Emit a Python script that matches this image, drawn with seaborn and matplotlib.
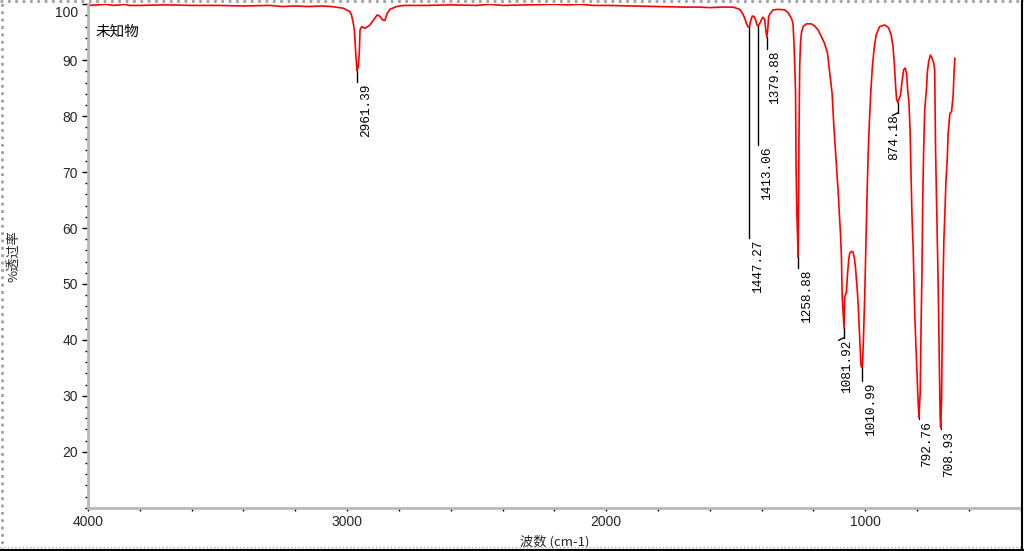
import matplotlib
matplotlib.use("Agg")
import matplotlib.pyplot as plt
import matplotlib.transforms as mtransforms
from matplotlib.lines import Line2D
from matplotlib.ticker import MultipleLocator
import pandas as pd
import seaborn as sns

# IR spectrum: wavenumber (cm-1) and %T
wavenumber = [
    4000, 3960, 3930, 3900, 3860, 3840, 3800, 3700, 3600, 3500, 3400, 3300,
    3250, 3200, 3150, 3100, 3060, 3030, 3015, 2989, 2983, 2976, 2972, 2969,
    2965, 2961.39, 2957, 2953, 2950, 2944, 2931, 2912, 2893, 2884, 2874, 2863,
    2854, 2845, 2835, 2809, 2780, 2700, 2600, 2500, 2450, 2400, 2300, 2200,
    2150, 2100, 2050, 2000, 1900, 1800, 1700, 1640, 1600, 1560, 1510, 1485,
    1474, 1465, 1459, 1453, 1447.27, 1443, 1436, 1429, 1423, 1418, 1413.06,
    1407, 1401, 1395, 1388, 1384, 1379.88, 1376, 1373, 1366, 1356, 1337,
    1311, 1298, 1285, 1279, 1275, 1272, 1269, 1267, 1264, 1258.88, 1255.6,
    1253, 1250, 1246.6, 1240, 1227, 1208, 1195, 1182, 1169, 1157, 1146,
    1137, 1128, 1121, 1111, 1105, 1101, 1098, 1095, 1092, 1089, 1081.92,
    1079, 1073, 1069, 1064, 1060, 1054, 1048, 1043, 1038, 1034, 1030, 1027,
    1023, 1020, 1016, 1010.99, 1007, 1002, 997, 993, 989, 984, 979, 973,
    966, 958, 945, 925, 910, 900, 893, 888, 883, 879, 874.18, 870, 864, 858,
    852, 846, 840, 836, 832, 827, 823, 819, 815, 812.6, 809, 803.7, 799.7,
    796, 792.76, 788, 784, 781, 778, 774.5, 770.5, 764, 760, 755, 748.5,
    742, 736, 732, 728.6, 722.5, 718.4, 715.8, 713, 711, 708.93, 705.4,
    701.5, 696.5, 692.6, 688.8, 683.7, 679.9, 673.4, 666.8, 660.7, 656.7, 654,
]
transmittance = [
    99.8, 99.9, 100.0, 99.8, 100.0, 99.8, 99.8, 99.9, 99.8, 99.8, 99.7, 99.8,
    99.6, 99.7, 99.6, 99.7, 99.6, 99.4, 99.3, 98.7, 98.1, 96.6, 95.4, 93.0,
    90.1, 88.1, 88.9, 91.2, 95.4, 96.0, 95.7, 96.3, 97.5, 98.1, 97.9, 97.2,
    97.1, 98.4, 99.1, 99.6, 99.8, 99.8, 99.9, 99.8, 100.0, 99.8, 99.9, 100.0,
    99.9, 100.0, 99.8, 99.8, 99.7, 99.6, 99.5, 99.5, 99.4, 99.5, 99.5, 99.1,
    98.4, 97.5, 96.6, 96.0, 95.9, 96.9, 97.9, 97.8, 97.2, 96.3, 96.1,
    96.6, 97.2, 97.7, 97.3, 95.4, 94.1, 95.7, 97.8, 98.4, 99.0, 99.1,
    99.0, 98.5, 97.5, 96.6, 93.0, 88.9, 84.1, 71.0, 62.7, 54.8, 77.0,
    88.9, 93.0, 94.8, 96.0, 96.5, 96.5, 96.1, 95.4, 94.2, 93.0, 91.3,
    87.7, 84.1, 78.1, 71.0, 66.8, 63.3, 60.9, 58.5, 54.9, 47.8, 42.1,
    47.8, 48.4, 51.4, 54.3, 55.5, 55.8, 55.8, 54.9, 53.1, 50.8, 48.4, 46.0,
    41.8, 38.9, 35.3, 35.0, 40.1, 48.0, 58.0, 66.0, 73.0, 79.0, 84.0, 88.5,
    92.0, 94.5, 96.0, 96.3, 95.8, 94.5, 92.5, 89.5, 85.5, 83.0, 82.4, 83.0, 83.8, 86.2,
    88.3, 88.6, 87.5, 84.5, 82.9, 77.6, 68.9, 61.2, 56.4, 51.7, 44.5, 38.0, 32.9,
    29.0, 26.1, 30.5, 44.2, 52.0, 65.6, 74.0, 81.1, 84.7, 88.0, 89.8, 90.9,
    90.4, 89.5, 88.3, 74.0, 59.4, 49.6, 41.5, 32.9, 26.4, 24.3, 29.3,
    46.0, 57.9, 62.7, 68.0, 72.2, 77.0, 80.5, 80.8, 83.8, 88.3, 90.4,
]

# labelled peaks: text, position, depth, where the leader line stops
peak_labels = ["2961.39", "1447.27", "1413.06", "1379.88", "1258.88",
               "1081.92", "1010.99", "874.18", "792.76", "708.93"]
peak_wn = [2961.39, 1447.27, 1413.06, 1379.88, 1258.88,
           1081.92, 1010.99, 874.18, 792.76, 708.93]
peak_t = [88.1, 95.9, 96.1, 94.1, 54.8, 42.1, 35.0, 82.4, 26.1, 24.3]
leader_end_t = [86.1, 58.3, 74.9, 92.0, 52.9, 40.4, 32.6, 80.6, 25.8, 24.0]

x_ticks = [4000, 3000, 2000, 1000]
y_ticks = [20, 30, 40, 50, 60, 70, 80, 90, 100]

df = pd.DataFrame({"wn": wavenumber, "T": transmittance})

sns.set_theme(style="white")
plt.rcParams["font.family"] = ["Liberation Sans", "Noto Sans CJK SC", "DejaVu Sans"]
cjk = ["Noto Sans CJK SC", "DejaVu Sans"]

fig = plt.figure(figsize=(10.24, 5.51), dpi=100)
ax = fig.add_axes([88 / 1024, 43.3 / 551, 932.7 / 1024, 503.4 / 551])

sns.lineplot(data=df, x="wn", y="T", sort=False, estimator=None,
             color="#ff0000", linewidth=1.2, ax=ax)

# peak leaders and labels
hooks = {"1081.92": 2.0, "874.18": -2.9}
for lab, wn, t0, t1 in zip(peak_labels, peak_wn, peak_t, leader_end_t):
    ax.plot([wn, wn], [t0, t1], color="black", lw=1)
    dx = hooks.get(lab, 6.2)
    if lab in hooks:
        ax.annotate("", xy=(wn, t1), xytext=(-4, -2), textcoords="offset points",
                    arrowprops=dict(arrowstyle="-", lw=1, color="black",
                                    shrinkA=0, shrinkB=0))
    ax.annotate(lab, xy=(wn, t1), xytext=(dx, -1.2), textcoords="offset points",
                rotation=90, ha="center", va="top", fontsize=9.2,
                family="Liberation Mono", color="black")

ax.set_xlim(4000, 400)
ax.set_ylim(10, 100)
ax.set_xticks(x_ticks)
ax.set_yticks(y_ticks)
ax.xaxis.set_minor_locator(MultipleLocator(200))
ax.yaxis.set_minor_locator(MultipleLocator(2))
ax.tick_params(axis="y", which="major", direction="out", length=4, width=1,
               color="black", pad=3.2, labelsize=10, left=True)
ax.tick_params(axis="y", which="minor", direction="out", length=2, width=1,
               color="black", left=True)
ax.tick_params(axis="x", which="major", direction="out", length=2.5, width=1,
               color="black", pad=3, labelsize=10, bottom=True)
ax.tick_params(axis="x", which="minor", direction="out", length=2, width=1,
               color="black", bottom=True)

# "100" sits a little lower in the reference
for lbl in ax.get_yticklabels():
    if lbl.get_text() == "100":
        lbl.set_verticalalignment("top")
        lbl.set_transform(lbl.get_transform() +
                          mtransforms.ScaledTranslation(0, -1 / 72, fig.dpi_scale_trans))

for side in ["top", "right"]:
    ax.spines[side].set_visible(False)
for side in ["left", "bottom"]:
    ax.spines[side].set_color("#b8b8b8")
    ax.spines[side].set_linewidth(2)

ax.set_xlabel("波数 (cm-1)", family=cjk, fontsize=9.5, va="center")
ax.set_ylabel("%透过率", family=cjk, fontsize=9.5)
ax.xaxis.set_label_coords(0.5, -0.067)
ax.yaxis.set_label_coords(-0.073, 0.5)

ax.text(0.0075, 0.945, "未知物", transform=ax.transAxes, ha="left", va="center",
        family=cjk, fontsize=10.5, color="black")

# window frame
fig.add_artist(Line2D([0.002, 0.002], [0, 1], transform=fig.transFigure,
                      color="#a0a0a0", lw=2, ls=":"))
fig.add_artist(Line2D([0, 1], [0.998, 0.998], transform=fig.transFigure,
                      color="#a0a0a0", lw=2, ls=":"))
fig.add_artist(Line2D([0, 1], [0.008, 0.008], transform=fig.transFigure,
                      color="#b0b0b0", lw=1, ls=":"))
fig.add_artist(Line2D([0, 1], [0.002, 0.002], transform=fig.transFigure,
                      color="black", lw=1.5))
fig.add_artist(Line2D([0.998, 0.998], [0, 1], transform=fig.transFigure,
                      color="black", lw=1.5))

fig.savefig("out.png", dpi=100)
